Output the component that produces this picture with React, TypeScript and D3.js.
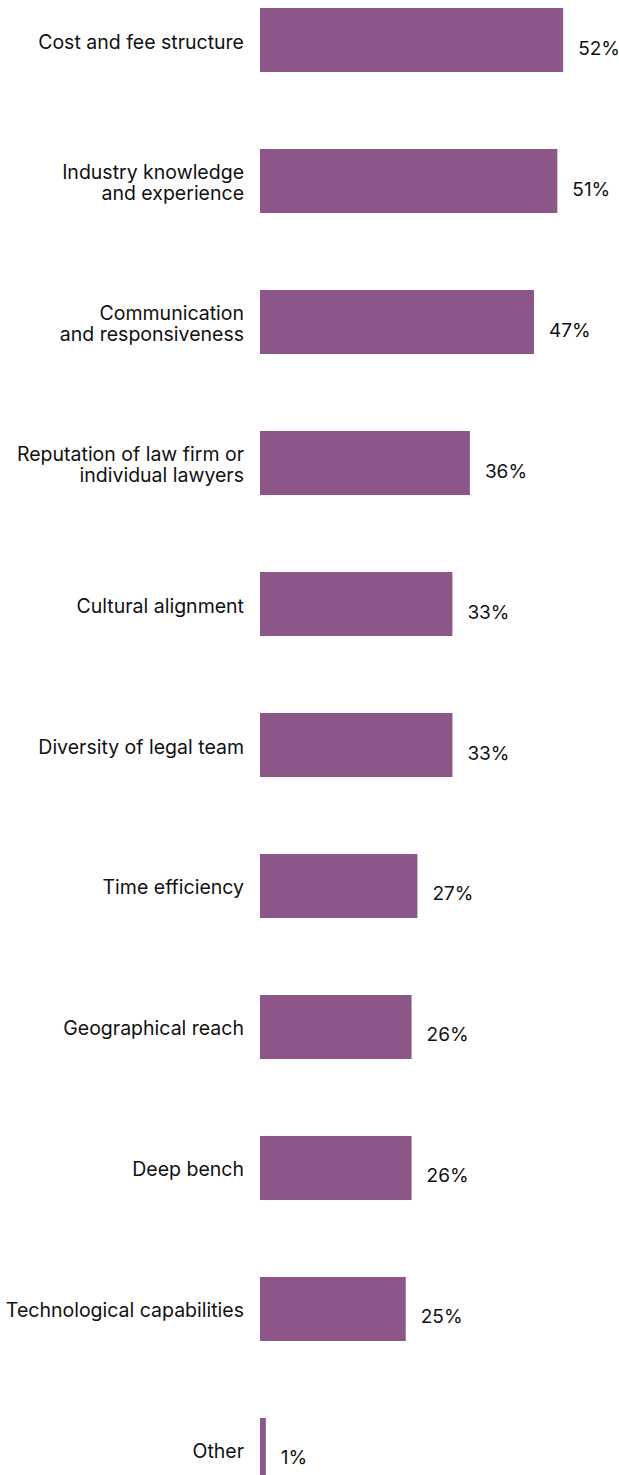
import * as React from 'react';
import * as d3 from 'd3';

const categories = [
  'Cost and fee structure',
  'Industry knowledge\nand experience',
  'Communication\nand responsiveness',
  'Reputation of law firm or\nindividual lawyers',
  'Cultural alignment',
  'Diversity of legal team',
  'Time efficiency',
  'Geographical reach',
  'Deep bench',
  'Technological capabilities',
  'Other',
];

const values = [52, 51, 47, 36, 33, 33, 27, 26, 26, 25, 1];

const WIDTH = 619;
const HEIGHT = 1475;
const BAR_X = 260;
const BAR_COLOR = '#8d5689';
const FONT = 'Inter, "Noto Sans", sans-serif';
const LINE_H = 21;

export default function App() {
  const x = d3.scaleLinear().domain([0, 100]).range([0, 583]);
  const y = d3
    .scaleBand<string>()
    .domain(categories)
    .range([8, 1482])
    .paddingInner(0.546)
    .paddingOuter(0);

  return (
    <svg
      width={WIDTH}
      height={HEIGHT}
      viewBox={`0 0 ${WIDTH} ${HEIGHT}`}
      style={{ position: 'absolute', left: 0, top: 0, background: '#fff' }}
    >
      {categories.map((cat, i) => {
        const y0 = y(cat) ?? 0;
        const cy = y0 + y.bandwidth() / 2;
        const w = x(values[i]);
        const lines = cat.split('\n');
        // first baseline so the block sits centred on the bar
        const firstBase = cy + 8.5 - ((lines.length - 1) * LINE_H) / 2;
        return (
          <g key={cat}>
            <rect x={BAR_X} y={y0} width={w} height={y.bandwidth()} fill={BAR_COLOR} />
            <text
              x={BAR_X - 16}
              y={firstBase}
              textAnchor="end"
              fontFamily={FONT}
              fontSize={19.5}
              fill="#111"
            >
              {lines.map((line, j) => (
                <tspan key={j} x={BAR_X - 16} dy={j === 0 ? 0 : LINE_H}>
                  {line}
                </tspan>
              ))}
            </text>
            <text
              x={BAR_X + w + 15}
              y={cy + 14.5}
              fontFamily={FONT}
              fontSize={19}
              fill="#111"
            >
              {values[i]}%
            </text>
          </g>
        );
      })}
    </svg>
  );
}
